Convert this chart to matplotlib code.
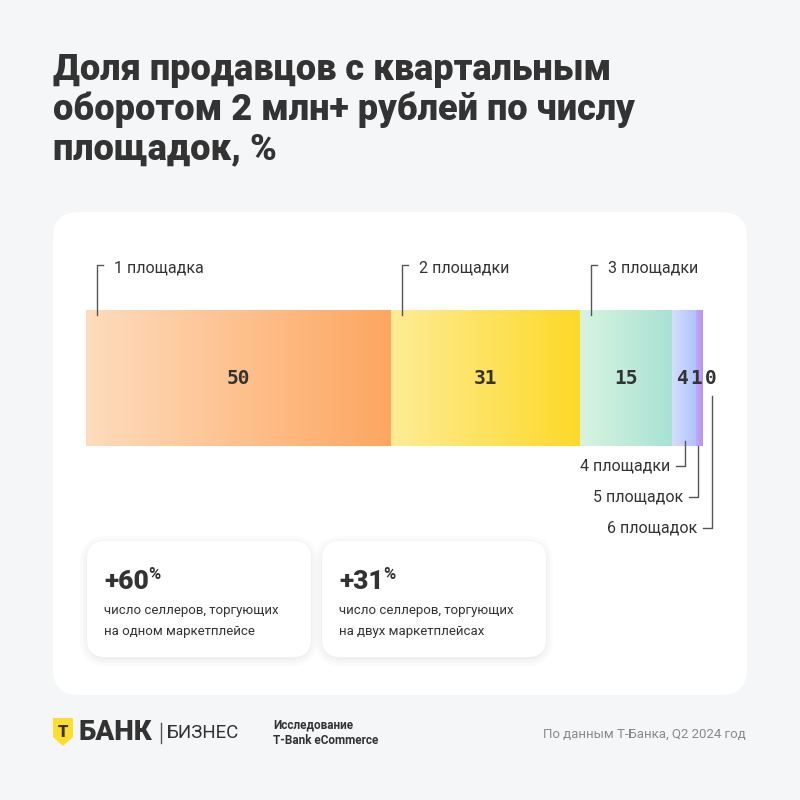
import numpy as np
import matplotlib
matplotlib.use('Agg')
from matplotlib import pyplot as plt
from matplotlib.patches import FancyBboxPatch, Polygon
from matplotlib.colors import LinearSegmentedColormap
from matplotlib import transforms

# data
platforms = ['1 площадка', '2 площадки', '3 площадки', '4 площадки', '5 площадок', '6 площадок']
shares = [50, 31, 15, 4, 1, 0]
value_labels = ['50', '31', '15', '4', '1', '0']
seg_colors = [('#fedcbd', '#fda660'), ('#feec96', '#fdd928'), ('#d8f4e0', '#a8e2d4'),
              ('#d6defd', '#adc2fb'), ('#c4a8f7', '#b393f3'), ('#b393f3', '#b393f3')]
growth = ['+60', '+31']
growth_text = ['число селлеров, торгующих\nна одном маркетплейсе',
               'число селлеров, торгующих\nна двух маркетплейсах']

TITLE = 'Доля продавцов с квартальным\nоборотом 2 млн+ рублей по числу\nплощадок, %'
SANS = ['Roboto', 'DejaVu Sans']
MONO = ['DejaVu Sans Mono']
DARK = '#333333'

fig = plt.figure(figsize=(8, 8), dpi=100)
fig.patch.set_facecolor('#f5f6f8')

# background axes in pixel units
bg = fig.add_axes([0, 0, 1, 1])
bg.set_xlim(0, 800)
bg.set_ylim(800, 0)
bg.axis('off')

bg.text(53, 52, TITLE, fontsize=26, fontweight='black', family=SANS, color=DARK,
        va='top', ha='left', linespacing=1.12)

panel = FancyBboxPatch((53, 212), 694, 483, boxstyle='round,pad=0,rounding_size=26',
                       fc='white', ec='none')
bg.add_patch(panel)

# cards
for i, (g, t) in enumerate(zip(growth, growth_text)):
    x0 = 87 + i * 235
    for k, a in enumerate([0.025, 0.02, 0.015]):
        s = 3 + k * 3
        bg.add_patch(FancyBboxPatch((x0 - s + 2, 541 - s + 4), 224 + 2 * s - 4, 116 + 2 * s - 4,
                                    boxstyle='round,pad=0,rounding_size=%d' % (18 + s),
                                    fc='black', ec='none', alpha=a))
    bg.add_patch(FancyBboxPatch((x0, 541), 224, 116, boxstyle='round,pad=0,rounding_size=18',
                                fc='white', ec='none'))
    txt = bg.text(x0 + 17, 589, g, fontsize=19, fontweight='black', family=SANS, color=DARK,
                  va='baseline')
    bg.annotate('%', xy=(1, 1), xycoords=txt, xytext=(-0.5, 2), textcoords='offset points',
                fontsize=12, fontweight='bold', family=SANS, color=DARK, va='top')
    bg.text(x0 + 17, 604, t, fontsize=9.5, family=SANS, color=DARK, va='top', linespacing=1.75)

# footer
shield = Polygon([(53, 718), (73, 718), (73, 737), (63, 746), (53, 737)], closed=True,
                 fc='#ffdd2d', ec='none')
bg.add_patch(shield)
bg.text(63, 732, 'Т', fontsize=12, fontweight='black', family=SANS, color=DARK,
        ha='center', va='center')
bg.text(78, 733, 'БАНК', fontsize=20, fontweight='black', family=SANS, color=DARK, va='center')
bg.plot([161, 161], [723, 743], color='#555555', lw=1)
bg.text(167, 733, 'БИЗНЕС', fontsize=13.5, family=SANS, color=DARK, va='center')
bg.text(273, 725, 'Исследование', fontsize=8.5, fontweight='bold', family=SANS, color=DARK,
        va='center')
bg.text(273, 741, 'T-Bank eCommerce', fontsize=8.5, fontweight='bold', family=SANS, color=DARK,
        va='center')
bg.text(746, 734, 'По данным Т-Банка, Q2 2024 год', fontsize=9.5, family=SANS, color='#8a8a8a',
        ha='right', va='center')

# bar axes: one unit = 6.1 px
total = sum(shares)
ax = fig.add_axes([86 / 800, (800 - 446) / 800, 6.1 * total / 800, 136 / 800])
ax.set_xlim(0, total)
ax.set_ylim(0, 1)
ax.axis('off')
ax.patch.set_alpha(0)

starts = np.concatenate([[0], np.cumsum(shares)[:-1]])
grad = np.linspace(0, 1, 256).reshape(1, -1)
for s, w, (c0, c1) in zip(starts, shares, seg_colors):
    if w <= 0:
        continue
    cmap = LinearSegmentedColormap.from_list('seg', [c0, c1])
    ax.imshow(grad, cmap=cmap, extent=(s, s + w, 0, 1), aspect='auto', interpolation='bicubic')
ax.set_xlim(0, total)
ax.set_ylim(0, 1)

# value labels
lab_x = [starts[i] + shares[i] / 2 for i in range(6)]
lab_x[3] -= 0.2
lab_x[4] -= 0.4
lab_x[5] += 1.5
for x, v in zip(lab_x, value_labels):
    ax.text(x, 0.5, v, fontsize=14, fontweight='bold', family=MONO, color=DARK,
            ha='center', va='center', clip_on=False)

# leader lines: x in data, y in pixels
tr = transforms.blended_transform_factory(ax.transData, bg.transData)
lc = '#555555'
for i in range(3):
    lx = starts[i] + 1.8
    ax.plot([lx, lx, lx + 1.0], [315, 265, 265], color=lc, lw=1, transform=tr, clip_on=False)
    ax.text(lx + 2.8, 268, platforms[i], fontsize=11.5, family=SANS, color=DARK,
            ha='left', va='center', transform=tr)

low_x = [starts[3] + 2.2, starts[4] + 0.3, total + 1.6]
low_y = [466, 497, 528]
low_top = [441, 446, 396]
for i, (lx, ly, lt) in enumerate(zip(low_x, low_y, low_top)):
    ax.plot([lx - 1.4, lx, lx], [ly, ly, lt], color=lc, lw=1, transform=tr, clip_on=False)
    ax.text(lx - 2.4, ly, platforms[3 + i], fontsize=11.5, family=SANS, color=DARK,
            ha='right', va='center', transform=tr)

fig.savefig('out.png', dpi=100, facecolor=fig.get_facecolor())
